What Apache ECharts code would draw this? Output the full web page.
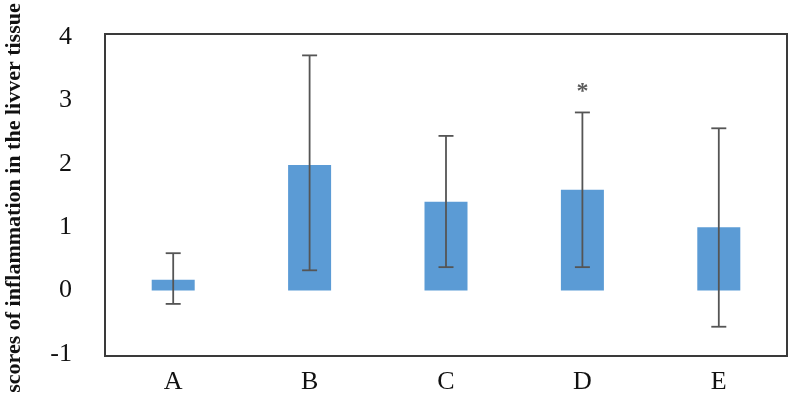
<!DOCTYPE html>
<html><head><meta charset="utf-8">
<script src="https://cdn.jsdelivr.net/npm/echarts@6/dist/echarts.min.js"></script>
<style>html,body{margin:0;padding:0;background:#fff}#c{width:791px;height:404px}</style>
</head><body><div id="c"></div>
<script>
const categories = ['A','B','C','D','E'];
const means = [0.17, 1.98, 1.40, 1.59, 1.00];
const errLow = [-0.21, 0.32, 0.37, 0.37, -0.57];
const errHigh = [0.59, 3.71, 2.44, 2.81, 2.56];
const starMarks = [null, null, null, 3.22, null];
const yTicks = [-1, 0, 1, 2, 3, 4];

const chart = echarts.init(document.getElementById('c'));
const serif = '"Liberation Serif","Times New Roman",serif';
chart.setOption({
  animation: false,
  grid: {left: 105, right: 4, top: 37, bottom: 50, show: false},
  graphic: [{
    type: 'rect', shape: {x: 105, y: 34, width: 682, height: 322},
    style: {fill: 'none', stroke: '#3a3a3a', lineWidth: 2}, z: 10
  }, {
    type: 'text', rotation: Math.PI/2, x: 14, y: 198,
    style: {text: 'scores of inflammation in the livver tissue', font: 'bold 22px ' + serif,
      fill: '#111', align: 'center', verticalAlign: 'middle'}
  }],
  xAxis: {
    type: 'category', data: categories,
    axisLine: {show: false}, axisTick: {show: false},
    axisLabel: {margin: 15, fontFamily: serif, fontSize: 26, color: '#111'}
  },
  yAxis: {
    type: 'value', min: yTicks[0], max: yTicks[yTicks.length-1], interval: 1,
    splitLine: {show: false}, axisLine: {show: false}, axisTick: {show: false},
    axisLabel: {margin: 33, fontFamily: serif, fontSize: 26, color: '#111'}
  },
  series: [{
    type: 'bar', data: means, barWidth: 43,
    itemStyle: {color: '#5B9BD5'}
  }, {
    type: 'custom',
    data: categories.map((c, i) => [i, errLow[i], errHigh[i]]),
    renderItem: function(params, api) {
      const lo = api.coord([api.value(0), api.value(1)]);
      const hi = api.coord([api.value(0), api.value(2)]);
      const w = 7.5;
      const st = {stroke: '#555', lineWidth: 1.8};
      return {type: 'group', children: [
        {type: 'line', shape: {x1: hi[0], y1: hi[1], x2: lo[0], y2: lo[1]}, style: st},
        {type: 'line', shape: {x1: hi[0]-w, y1: hi[1], x2: hi[0]+w, y2: hi[1]}, style: st},
        {type: 'line', shape: {x1: lo[0]-w, y1: lo[1], x2: lo[0]+w, y2: lo[1]}, style: st}
      ]};
    },
    z: 5
  }, {
    type: 'scatter', data: starMarks, symbolSize: 0,
    label: {show: true, position: 'inside', formatter: '*', fontFamily: serif,
      fontSize: 24, fontWeight: 'bold', color: '#333', offset: [0, 5]}
  }]
});
</script></body></html>
